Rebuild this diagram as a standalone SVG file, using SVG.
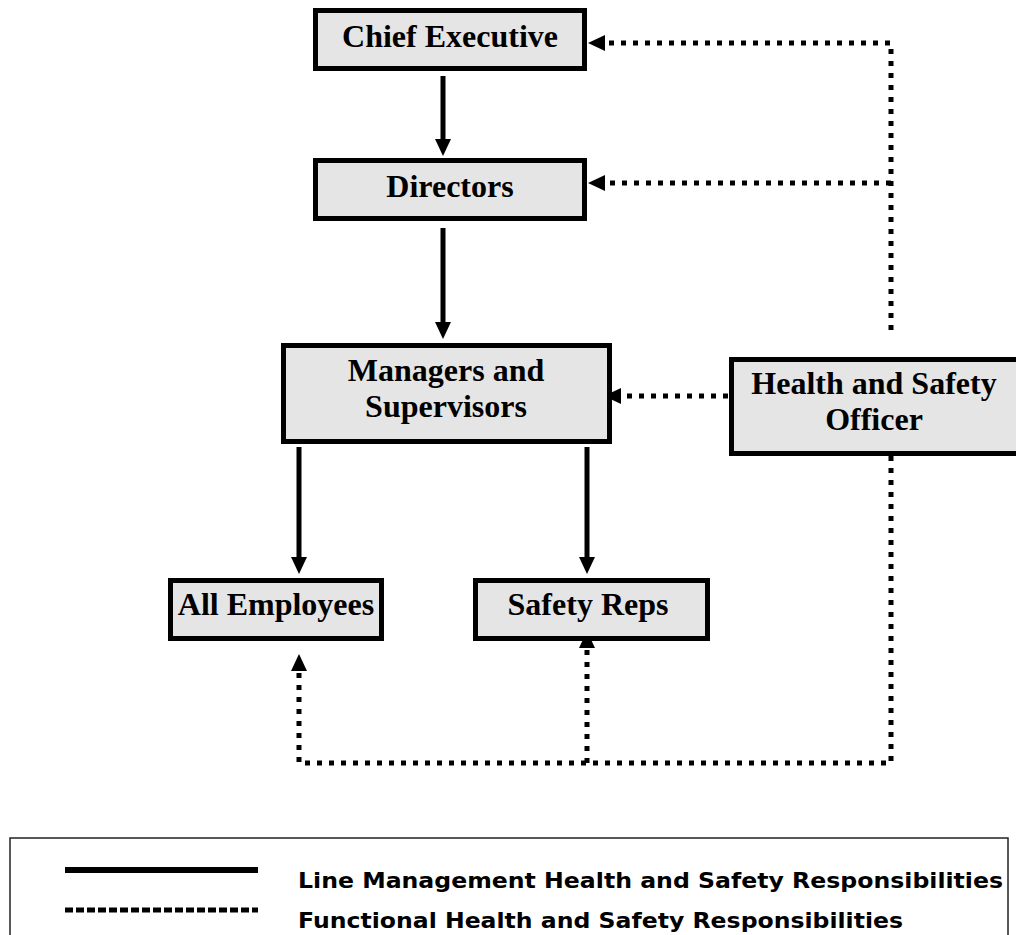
<svg xmlns="http://www.w3.org/2000/svg" width="1016" height="935" viewBox="0 0 1016 935">
<style>
.box{fill:#e5e5e5;stroke:#000;stroke-width:5}
.lbl{font-family:"Liberation Serif","Times New Roman",serif;font-weight:bold;font-size:32px;fill:#000;text-anchor:middle}
.solid{fill:none;stroke:#000;stroke-width:5}
.dot{fill:none;stroke:#000;stroke-width:5;stroke-dasharray:5 7}
.leg{font-family:"DejaVu Sans",Verdana,sans-serif;font-weight:bold;font-size:22px;fill:#000}
</style>
<defs>
<marker id="ah" markerUnits="userSpaceOnUse" markerWidth="18" markerHeight="18" refX="0" refY="8" orient="auto" viewBox="0 0 18 16">
<path d="M0,0 L17,8 L0,16 z" fill="#000"/>
</marker>
</defs>
<g id="connectors">
<line class="solid" x1="443" y1="76" x2="443" y2="139" stroke-width="4" marker-end="url(#ah)"/>
<line class="solid" x1="443" y1="228" x2="443" y2="322" marker-end="url(#ah)"/>
<line class="solid" x1="299" y1="447" x2="299" y2="557" marker-end="url(#ah)"/>
<line class="solid" x1="587" y1="447" x2="587" y2="557" marker-end="url(#ah)"/>
<path class="dot" d="M891,330 L891,43 L605,43" marker-end="url(#ah)"/>
<path class="dot" d="M891,183 L605,183" marker-end="url(#ah)"/>
<path class="dot" d="M728,396 L621,396" marker-end="url(#ah)"/>
<path class="dot" d="M891,456 L891,763 L299,763 L299,671" marker-end="url(#ah)"/>
<path class="dot" d="M587,763 L587,648" marker-end="url(#ah)"/>
</g>
<g id="chief-executive">
<rect class="box" x="315.5" y="10.5" width="269" height="58"/>
<text class="lbl" x="450" y="47">Chief Executive</text>
</g>
<g id="directors">
<rect class="box" x="315.5" y="160.5" width="269" height="58"/>
<text class="lbl" x="450" y="197">Directors</text>
</g>
<g id="managers">
<rect class="box" x="283.5" y="345.5" width="326" height="96"/>
<text class="lbl" x="446" y="381">Managers and</text>
<text class="lbl" x="446" y="417">Supervisors</text>
</g>
<g id="hs-officer">
<rect class="box" x="731.5" y="359.5" width="290" height="94"/>
<text class="lbl" x="874" y="394">Health and Safety</text>
<text class="lbl" x="874" y="430">Officer</text>
</g>
<g id="all-employees">
<rect class="box" x="170.5" y="580.5" width="211" height="58"/>
<text class="lbl" x="276" y="615">All Employees</text>
</g>
<g id="safety-reps">
<rect class="box" x="475.5" y="580.5" width="232" height="58"/>
<text class="lbl" x="588" y="615">Safety Reps</text>
</g>
<g id="legend">
<rect x="10" y="838" width="998" height="130" fill="none" stroke="#222" stroke-width="1.5"/>
<line x1="65" y1="870" x2="258" y2="870" stroke="#000" stroke-width="6"/>
<line x1="65" y1="910" x2="258" y2="910" stroke="#000" stroke-width="5" stroke-dasharray="8 3"/>
<text class="leg" x="298" y="888" textLength="705" lengthAdjust="spacingAndGlyphs">Line Management Health and Safety Responsibilities</text>
<text class="leg" x="298" y="928" textLength="605" lengthAdjust="spacingAndGlyphs">Functional Health and Safety Responsibilities</text>
</g>
</svg>
